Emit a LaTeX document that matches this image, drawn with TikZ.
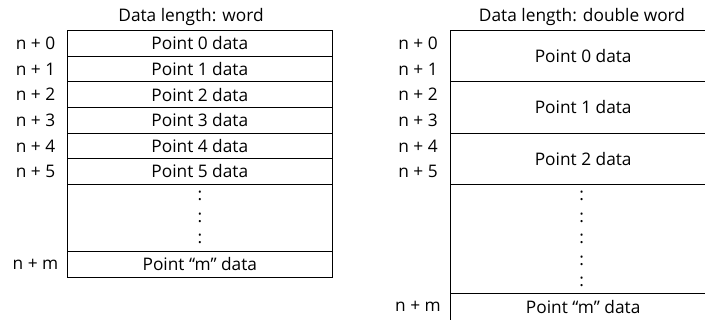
\documentclass[tikz,border=0pt]{standalone}
\usepackage{fontspec}
\setmainfont{Open Sans}
\begin{document}
\begin{tikzpicture}[x=1pt,y=-1pt,
  cell/.style={draw=black, line width=1pt, minimum width=265pt, inner sep=0pt, font=\fontsize{17.3}{20}\selectfont},
  lbl/.style={inner sep=0pt, font=\fontsize{17.3}{20}\selectfont},
  ttl/.style={inner sep=0pt, font=\fontsize{17.3}{20}\selectfont},
  vdots/.style={inner sep=0pt, font=\fontsize{17.3}{20}\selectfont}]
\useasboundingbox (0,0) rectangle (705,320);
\clip (0,0) rectangle (705,320);
% titles
\node[ttl] (tl) at (191,16.7) {Data length: word};
\node[ttl] (tr) at (582,16.7) {Data length: double word};
% left table
\node[cell, minimum height=25.6pt] (L0) at (199.8,43.5) {Point 0 data};
\node[cell, minimum height=25.6pt] (L1) at (199.8,69.1) {Point 1 data};
\node[cell, minimum height=25.6pt] (L2) at (199.8,94.7) {Point 2 data};
\node[cell, minimum height=25.6pt] (L3) at (199.8,120.3) {Point 3 data};
\node[cell, minimum height=25.6pt] (L4) at (199.8,145.9) {Point 4 data};
\node[cell, minimum height=25.6pt] (L5) at (199.8,171.5) {Point 5 data};
\node[cell, minimum height=67.4pt] (Ld) at (199.8,218) {};
\node[cell, minimum height=25.6pt] (Lm) at (199.8,264.5) {Point “m” data};
\foreach \y [count=\i] in {196,217.5,239} {
  \node[vdots] (ld\i) at (200,\y) {:};
}
% left labels
\node[lbl] (nl0) at (35.5,43.5) {n + 0};
\node[lbl] (nl1) at (35.5,69.1) {n + 1};
\node[lbl] (nl2) at (35.5,94.7) {n + 2};
\node[lbl] (nl3) at (35.5,120.3) {n + 3};
\node[lbl] (nl4) at (35.5,145.9) {n + 4};
\node[lbl] (nl5) at (35.5,171.5) {n + 5};
\node[lbl] (nlm) at (35.5,264.5) {n + m};
% right table
\node[cell, minimum height=51.2pt] (R0) at (583.2,56.3) {Point 0 data};
\node[cell, minimum height=51.2pt] (R1) at (583.2,107.5) {Point 1 data};
\node[cell, minimum height=51.2pt] (R2) at (583.2,158.7) {Point 2 data};
\node[cell, minimum height=109.7pt] (Rd) at (583.2,239.15) {};
\node[cell, minimum height=28pt] (Rm) at (583.2,308) {};
\node[lbl] (Rmt) at (583.2,306.8) {Point “m” data};
\foreach \y [count=\i] in {196,217.5,239,260.5,282} {
  \node[vdots] (rd\i) at (581.7,\y) {:};
}
% right labels
\node[lbl] (nr0) at (418,43.5) {n + 0};
\node[lbl] (nr1) at (418,69.1) {n + 1};
\node[lbl] (nr2) at (418,94.7) {n + 2};
\node[lbl] (nr3) at (418,120.3) {n + 3};
\node[lbl] (nr4) at (418,145.9) {n + 4};
\node[lbl] (nr5) at (418,171.5) {n + 5};
\node[lbl] (nrm) at (418,306.8) {n + m};
\end{tikzpicture}
\end{document}
